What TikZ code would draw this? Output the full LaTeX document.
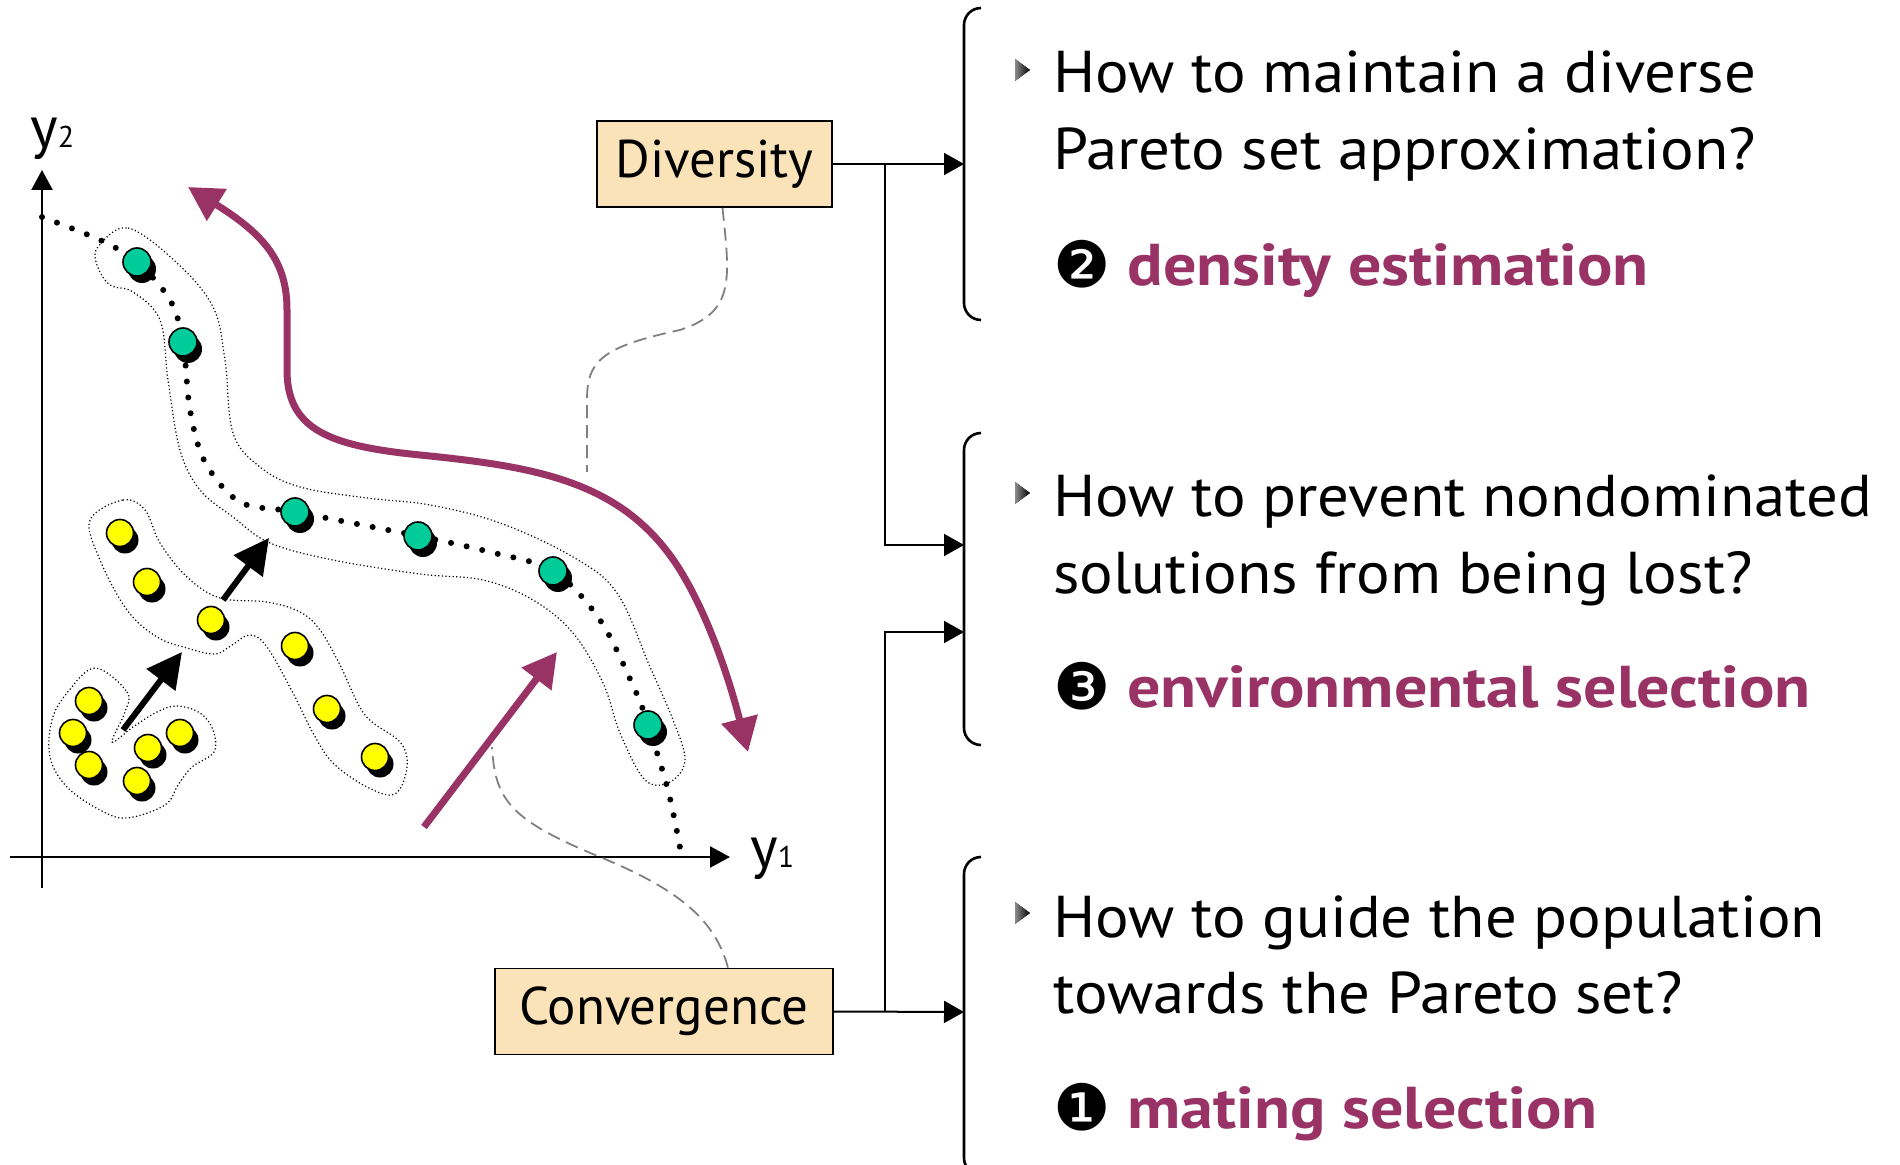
\documentclass[tikz,border=0pt]{standalone}
\usepackage{fontspec}
\setmainfont{PT Sans}
\newfontfamily\qfont{PT Sans}[FakeStretch=1.065]
\newfontfamily\pickfont{PT Sans}[FakeStretch=1.12]
\newfontfamily\dingfont{DejaVu Sans}
\usetikzlibrary{arrows.meta,shadows}

\definecolor{frontgreen}{HTML}{00CC99}
\definecolor{popyellow}{HTML}{FFFF00}
\definecolor{emoplum}{HTML}{993366}
\definecolor{goaltan}{HTML}{FBE3B9}

\newcommand\qsize{\fontsize{29.5pt}{35pt}\selectfont}
\newcommand\gsize{\fontsize{26.5pt}{32pt}\selectfont}
\newcommand\subsize{\fontsize{15pt}{18pt}\selectfont}

\tikzset{
  sol/.style={circle, draw=black, line width=0.8pt, inner sep=0pt, minimum size=13.5pt,
    drop shadow={shadow xshift=2.5pt, shadow yshift=-3.5pt, opacity=1, fill=black}},
  nondom/.style={sol, fill=frontgreen, minimum size=14pt},
  dom/.style={sol, fill=popyellow},
  grp/.style={line width=0.6pt, dash pattern=on 0.6pt off 1.2pt},
  goal/.style={draw, fill=goaltan, line width=0.8pt, inner sep=0pt, minimum height=43pt, font=\gsize},
  link/.style={line width=1pt, -{Triangle[length=10pt,width=11pt]}},
  brk/.style={line width=1.3pt, rounded corners=8.5pt},
  hint/.style={gray, line width=0.9pt, dash pattern=on 6.5pt off 3.5pt},
  trend/.style={emoplum, line width=3.5pt, -{Triangle[length=17pt,width=18pt]}},
  qline/.style={anchor=base west, inner sep=0pt, font=\qfont\qsize},
  pick/.style={anchor=base west, inner sep=0pt, font=\pickfont\qsize\bfseries, text=emoplum},
  num/.style={inner sep=0pt, font=\dingfont\fontsize{32pt}{34pt}\selectfont}
}

\begin{document}
\begin{tikzpicture}[x=0.5pt,y=-0.5pt]
  \useasboundingbox (0,0) rectangle (1900,1165);

  % axes
  \draw[line width=1.2pt, -{Triangle[length=10pt,width=10.5pt]}] (42,888) -- (42,170);
  \draw[line width=1.2pt, -{Triangle[length=10pt,width=10.5pt]}] (10,857) -- (730,857);
  \node[anchor=base west, inner sep=0pt, font=\qsize] (ax2) at (30,148) {y{\subsize 2}};
  \node[anchor=base west, inner sep=0pt, font=\qsize] (ax1) at (750,867) {y{\subsize 1}};

  % group outlines
  \draw[grp] plot[smooth cycle, tension=0.6] coordinates {(98,247) (128,228) (177,263) (213,307) (225,360)
    (233,433) (260,467) (300,487) (367,498) (430,505) (500,523) (573,557) (617,593) (650,667)
    (673,720) (685,760) (670,782) (645,780) (620,733) (603,683) (573,633) (533,600) (483,580)
    (420,574) (333,560) (270,543) (233,517) (200,490) (180,450) (168,380) (160,320) (133,292)
    (110,285) (97,265)};
  \draw[grp] plot[smooth cycle, tension=0.6] coordinates {(90,520) (123,500) (145,510) (160,543)
    (187,577) (220,598) (267,602) (300,612) (320,630) (340,665) (365,715) (400,742) (407,767)
    (395,794) (367,787) (333,763) (313,733) (293,693) (267,647) (250,635) (232,645) (215,654)
    (187,648) (157,637) (127,610) (100,560)};
  \draw[grp] plot[smooth cycle, tension=0.6] coordinates {(95,668) (127,692) (125,712) (112,742)
    (133,727) (157,712) (177,706) (200,713) (213,730) (214,752) (192,767) (178,785) (165,805)
    (127,818) (100,810) (67,787) (50,757) (52,720) (67,693)};

  % pareto front
  \draw[line width=3pt, dash pattern=on 0pt off 8pt, line cap=round]
    plot[smooth, tension=0.55] coordinates {(42,217) (100,240) (137,262) (170,300) (183,342)
    (190,410) (205,462) (240,502) (295,512) (418,536) (490,552) (553,571) (600,620) (635,690)
    (648,725) (668,790) (681,853)};

  \foreach \n/\x/\y in {1/137/262, 2/183/342, 3/295/512, 4/418/536, 5/553/571, 6/648/725}
    \node[nondom] (g\n) at (\x,\y) {};
  \foreach \n/\x/\y in {1/120/533, 2/147/582, 3/211/620, 4/295/646, 5/327/709, 6/375/757,
      7/89/701, 8/73/733, 9/89/765, 10/137/781, 11/148/748, 12/180/733}
    \node[dom] (d\n) at (\x,\y) {};

  % moves
  \draw[line width=3pt, -{Triangle[length=17.5pt,width=17.5pt]}] (123,730) -- (182,652);
  \draw[line width=3pt, -{Triangle[length=17.5pt,width=17.5pt]}] (223,600) -- (269,538);
  \draw[trend] (424,827) -- (557,652);
  \draw[trend, {Triangle[length=17pt,width=18pt]}-{Triangle[length=17pt,width=18pt]}]
    (188,187) .. controls (265,235) and (287,262) .. (287,310) -- (287,370)
    .. controls (287,430) and (330,446) .. (420,455)
    .. controls (540,467) and (625,482) .. (680,570)
    .. controls (712,622) and (732,690) .. (748,752);

  % goals
  \node[goal, minimum width=117.5pt] (div) at (714.5,164) {Diversity};
  \node[goal, minimum width=169pt] (conv) at (664,1011.5) {Convergence};
  \coordinate (divhit) at (587,472);
  \coordinate (convhit) at (492,747);
  \draw[hint] ([xshift=4pt]div.south) .. controls (730,280) and (735,312) .. (680,330)
    .. controls (600,347) and (587,362) .. (587,400) -- (divhit);
  \draw[hint] ([xshift=32pt]conv.north) .. controls (715,920) and (680,890) .. (600,857)
    .. controls (510,820) and (495,800) .. (convhit);

  % brackets
  \draw[brk] (981,8) -- (964,8) -- (964,320) -- (981,320);
  \draw[brk] (981,433) -- (964,433) -- (964,745) -- (981,745);
  \draw[brk] (981,857) -- (964,857) -- (964,1175) -- (981,1175);

  \coordinate (in1) at (964,164);
  \coordinate (in2a) at (964,545);
  \coordinate (in2b) at (964,632);
  \coordinate (in3) at (964,1012);
  \coordinate (splitd) at (885,164);
  \coordinate (splitc) at (885,1012);
  \draw[link] (div.east) -- (in1);
  \draw[link] (splitd) |- (in2a);
  \draw[link] (conv.east) -- (in3);
  \draw[link] (splitc) |- (in2b);

  % questions
  \foreach \y in {70,493,913}
    \fill[left color=black!45, right color=black] (1015,\y-11) -- (1030,\y) -- (1015,\y+11) -- cycle;

  \node[qline] (q1a) at (1053,93) {How to maintain a diverse};
  \node[qline] (q1b) at (1053,170) {Pareto set approximation?};
  \node[num] (n2) at (1082,264) {❷};
  \node[pick] (p2) at (1127,286) {density estimation};

  \node[qline] (q2a) at (1053,517) {How to prevent nondominated};
  \node[qline] (q2b) at (1053,594) {solutions from being lost?};
  \node[num] (n3) at (1082,686) {❸};
  \node[pick] (p3) at (1127,707) {environmental selection};

  \node[qline] (q3a) at (1053,937) {How to guide the population};
  \node[qline] (q3b) at (1053,1013) {towards the Pareto set?};
  \node[num] (n1) at (1082,1107) {❶};
  \node[pick] (p1) at (1127,1128) {mating selection};
\end{tikzpicture}
\end{document}
